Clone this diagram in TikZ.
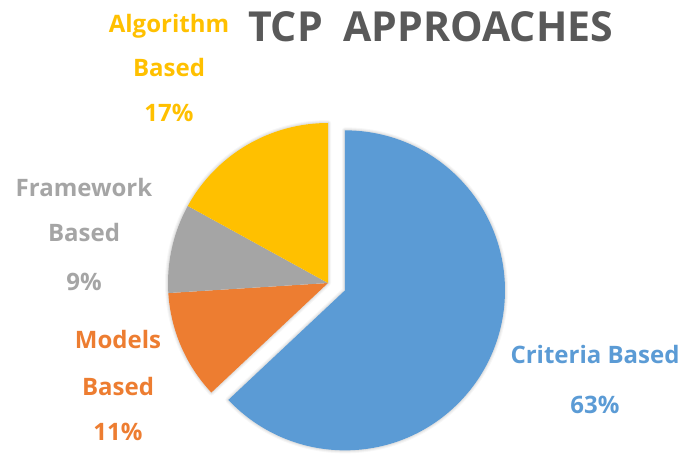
\documentclass[tikz,border=0pt]{standalone}
\usepackage{fontspec}
\setmainfont{Open Sans}
\usetikzlibrary{calc}
\definecolor{cblue}{HTML}{5B9BD5}
\definecolor{corange}{HTML}{ED7D31}
\definecolor{cgray}{HTML}{A5A5A5}
\definecolor{cyellow}{HTML}{FFC000}
\definecolor{ctitle}{HTML}{595959}
\begin{document}
\begin{tikzpicture}[x=1pt,y=1pt,
  lbl/.style={anchor=base,inner sep=0pt,font=\fontsize{24}{28}\selectfont\bfseries},
  ttl/.style={anchor=base,inner sep=0pt,text=ctitle,font=\fontsize{42}{48}\selectfont\bfseries}]
\useasboundingbox (0,0) rectangle (688,453);
\coordinate (C) at (328,170);
\coordinate (B) at ($(C)+(-23.4:18.5)$);
% soft shadow
\foreach \w/\o in {6/0.03,4/0.04,2/0.05}{
  \draw[line width=\w pt,draw opacity=\o,line join=round] (B) -- ++(90:160) arc[start angle=90,end angle=-136.8,radius=160] -- cycle;
  \draw[line width=\w pt,draw opacity=\o,line join=round] (C) -- ++(223.2:160) arc[start angle=223.2,end angle=90,radius=160] -- cycle;
}
% slices
\fill[cblue] (B) -- ++(90:160) arc[start angle=90,end angle=-136.8,radius=160] -- cycle;
\fill[corange] (C) -- ++(223.2:160) arc[start angle=223.2,end angle=183.6,radius=160] -- cycle;
\fill[cgray] (C) -- ++(183.6:160) arc[start angle=183.6,end angle=151.2,radius=160] -- cycle;
\fill[cyellow] (C) -- ++(151.2:160) arc[start angle=151.2,end angle=90,radius=160] -- cycle;
% title
\node[ttl] (title) at (430.5,411) {\resizebox{365pt}{30pt}{TCP\hspace{0.25em} APPROACHES}};
% labels
\node[lbl,text=cyellow] (a1) at (169,420.5) {Algorithm};
\node[lbl,text=cyellow] (a2) at (169,376.5) {Based};
\node[lbl,text=cyellow] (a3) at (169,331.5) {17\%};
\node[lbl,text=cgray] (f1) at (84,256.5) {Framework};
\node[lbl,text=cgray] (f2) at (84,211.5) {Based};
\node[lbl,text=cgray] (f3) at (84,162.5) {9\%};
\node[lbl,text=corange] (m1) at (118,104.5) {Models};
\node[lbl,text=corange] (m2) at (118,57.5) {Based};
\node[lbl,text=corange] (m3) at (118,12.5) {11\%};
\node[lbl,text=cblue] (c1) at (595,89.5) {Criteria Based};
\node[lbl,text=cblue] (c2) at (595,39.5) {63\%};
\end{tikzpicture}
\end{document}
